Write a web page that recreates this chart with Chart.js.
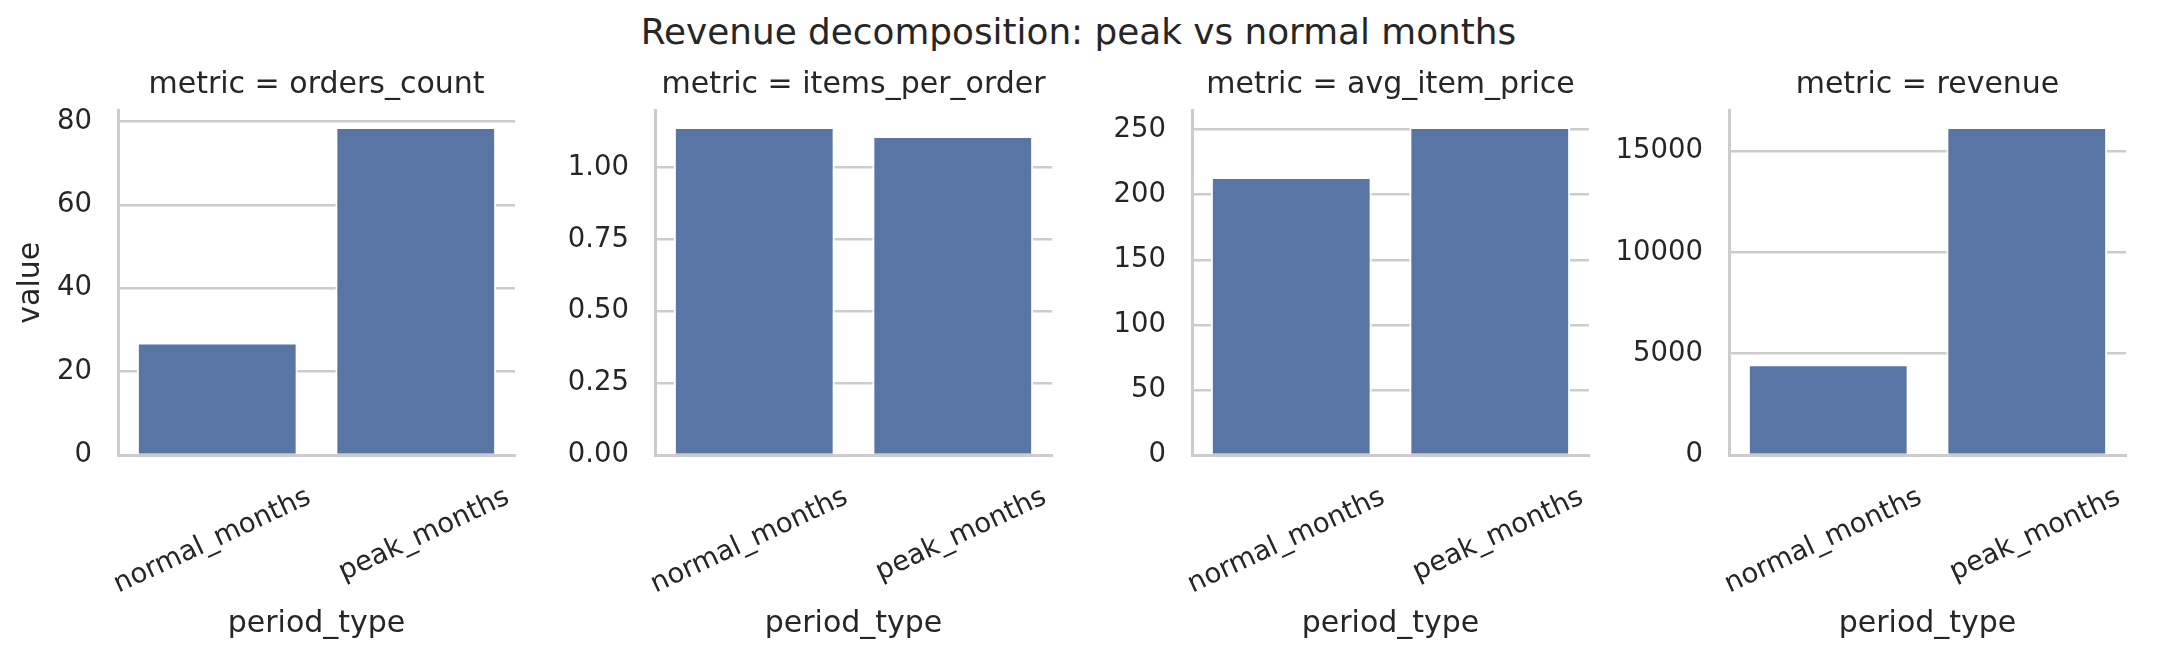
<!DOCTYPE html>
<html>
<head>
<meta charset="utf-8">
<script src="https://cdn.jsdelivr.net/npm/chart.js@4.4.1/dist/chart.umd.min.js"></script>
<style>
  html, body { margin: 0; padding: 0; background: #fff; }
  body { width: 2173px; height: 655px; position: relative; overflow: hidden; }
  #suptitle {
    position: absolute; left: -8px; top: 11px; width: 2173px; text-align: center;
    font-family: "DejaVu Sans", sans-serif; font-size: 35.8px; color: #262626; line-height: 42px;
  }
  canvas { position: absolute; top: 0; }
</style>
</head>
<body>
<div id="suptitle">Revenue decomposition: peak vs normal months</div>
<canvas id="c0" width="534" height="655"></canvas>
<canvas id="c1" width="534" height="655"></canvas>
<canvas id="c2" width="534" height="655"></canvas>
<canvas id="c3" width="534" height="655"></canvas>
<script>
// data
const periodTypes = ["normal_months", "peak_months"];
const metrics = ["orders_count", "items_per_order", "avg_item_price", "revenue"];

const ordersCount   = [27.0, 78.7];
const itemsPerOrder = [1.142, 1.11];
const avgItemPrice  = [213.6, 252.1];
const revenue       = [4480, 16200];

const ordersTicks = [0, 20, 40, 60, 80];
const itemsTicks  = [0, 0.25, 0.5, 0.75, 1.0];
const priceTicks  = [0, 50, 100, 150, 200, 250];
const revTicks    = [0, 5000, 10000, 15000];

const seriesByMetric = [ordersCount, itemsPerOrder, avgItemPrice, revenue];
const ticksByMetric  = [ordersTicks, itemsTicks, priceTicks, revTicks];
const decimals       = [0, 2, 0, 0];

// layout
const axLeft = [118, 655, 1192, 1729];
const yAxisW = 118;
const padRight = 19;

Chart.defaults.font.family = "'DejaVu Sans', sans-serif";
Chart.defaults.color = "#262626";

const tickFont = { size: 27.5 };
const labelFont = { size: 30 };

metrics.forEach((metric, i) => {
  const canvas = document.getElementById("c" + i);
  canvas.style.left = (axLeft[i] - yAxisW) + "px";
  const vals = seriesByMetric[i];

  new Chart(canvas, {
    type: "bar",
    data: {
      labels: periodTypes,
      datasets: [{
        data: vals,
        backgroundColor: "#5975a4",
        borderColor: "#ffffff",
        borderWidth: 2,
        barPercentage: 0.81,
        categoryPercentage: 1.0
      }]
    },
    options: {
      responsive: false,
      animation: false,
      events: [],
      layout: { padding: { left: 0, right: padRight, top: 0, bottom: 0 } },
      plugins: {
        legend: { display: false },
        tooltip: { enabled: false },
        title: {
          display: true,
          text: "metric = " + metric,
          fullSize: false,
          font: { size: 30, weight: "normal" },
          color: "#262626",
          padding: { top: 67, bottom: 7.5 }
        }
      },
      scales: {
        x: {
          grid: { display: false },
          border: { display: true, color: "#cccccc", width: 3 },
          ticks: {
            font: tickFont,
            minRotation: 25,
            maxRotation: 25,
            padding: 18,
            labelOffset: 92
          },
          title: {
            display: true,
            text: "period_type",
            font: labelFont,
            padding: { top: 0, bottom: 13 }
          },
          afterFit: s => {
            s.height = 200;
            s.paddingLeft = 0;
            s.paddingRight = 0;
          }
        },
        y: {
          min: 0,
          max: Math.max(...vals) * 1.05,
          grid: { color: "#cccccc", lineWidth: 2.5, drawTicks: false },
          border: { display: true, color: "#cccccc", width: 3 },
          ticks: {
            font: tickFont,
            padding: 26,
            callback: v => Number(v).toFixed(decimals[i])
          },
          title: {
            display: i === 0,
            text: "value",
            font: labelFont,
            padding: { top: 13, bottom: 0 }
          },
          afterBuildTicks: s => {
            s.ticks = ticksByMetric[i].map(v => ({ value: v }));
          },
          afterFit: s => {
            s.width = yAxisW;
            s.paddingTop = 0;
            s.paddingBottom = 0;
          }
        }
      }
    }
  });
});
</script>
</body>
</html>
